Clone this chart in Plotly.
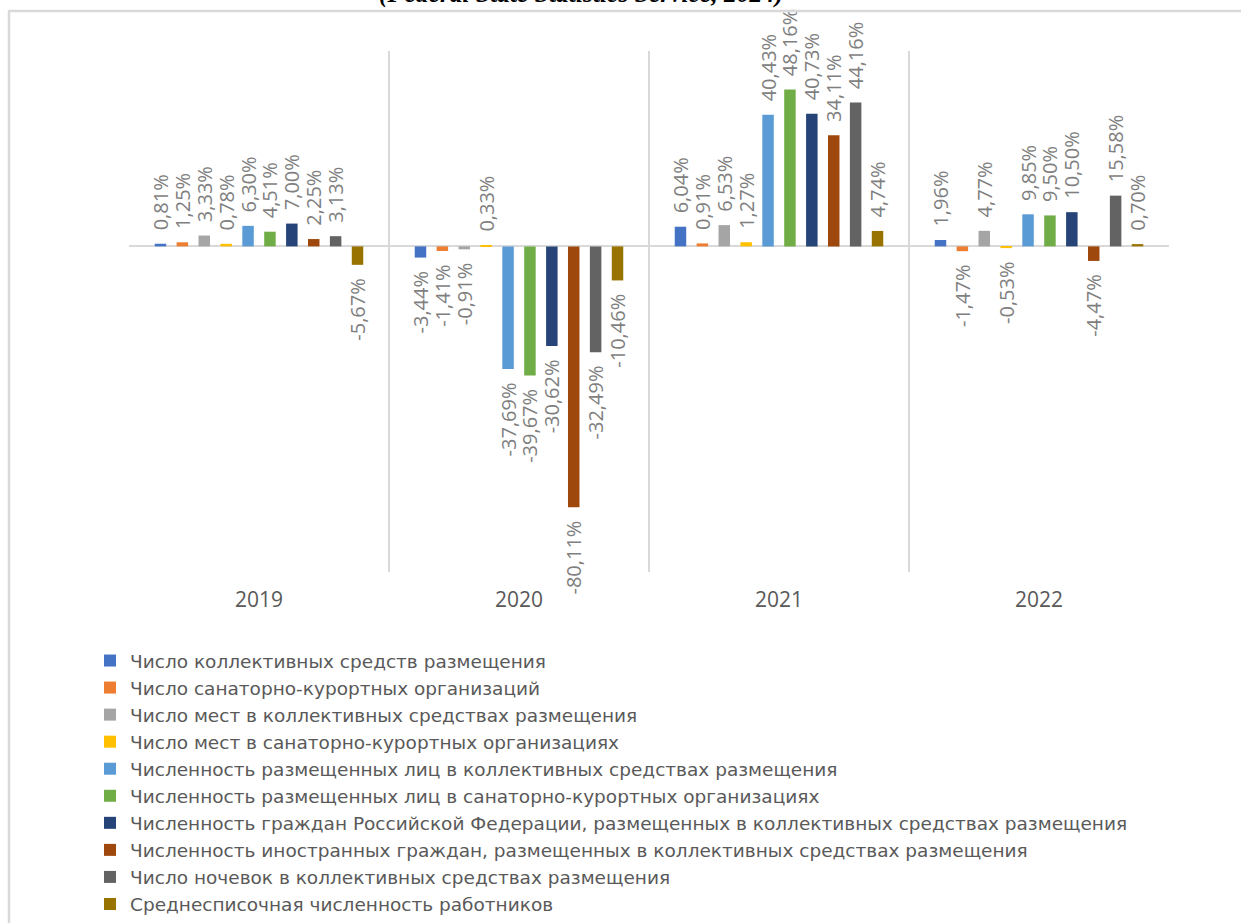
import plotly.graph_objects as go

years = ["2019", "2020", "2021", "2022"]

series_names = [
    "Число коллективных средств размещения",
    "Число санаторно-курортных организаций",
    "Число мест в коллективных средствах размещения",
    "Число мест в санаторно-курортных организациях",
    "Численность размещенных лиц в коллективных средствах размещения",
    "Численность размещенных лиц в санаторно-курортных организациях",
    "Численность граждан Российской Федерации, размещенных в коллективных средствах размещения",
    "Численность иностранных граждан, размещенных в коллективных средствах размещения",
    "Число ночевок в коллективных средствах размещения",
    "Среднесписочная численность работников",
]

vals_2019 = [0.81, 1.25, 3.33, 0.78, 6.30, 4.51, 7.00, 2.25, 3.13, -5.67]
vals_2020 = [-3.44, -1.41, -0.91, 0.33, -37.69, -39.67, -30.62, -80.11, -32.49, -10.46]
vals_2021 = [6.04, 0.91, 6.53, 1.27, 40.43, 48.16, 40.73, 34.11, 44.16, 4.74]
vals_2022 = [1.96, -1.47, 4.77, -0.53, 9.85, 9.50, 10.50, -4.47, 15.58, 0.70]

colors = ["#4472C4", "#ED7D31", "#A5A5A5", "#FFC000", "#5B9BD5",
          "#70AD47", "#264478", "#9E480E", "#636363", "#997300"]

title_text = "(Federal State Statistics Service, 2024)"

by_year = [vals_2019, vals_2020, vals_2021, vals_2022]

W, H = 1241, 923
L, R, T, B = 129, 1169, 51, 572
pw, ph = R - L, B - T

PAD = "\u00a0\u00a0"  # gap between bar end and its data label


def px_x(x):
    return (x - L) / pw


def px_y(y):
    return 1 - (y - T) / ph


def label(v):
    s = ("%.2f%%" % v).replace(".", ",")
    # rotated text reads bottom-to-top: pad the end that touches the bar
    return PAD + s if v >= 0 else s + PAD


fig = go.Figure()
for i, name in enumerate(series_names):
    yv = [yr[i] for yr in by_year]
    fig.add_trace(go.Bar(
        x=years, y=yv, name=name,
        marker=dict(color=colors[i], line=dict(width=0)),
        text=[label(v) for v in yv], textposition="outside", textangle=-90,
        textfont=dict(family="Open Sans", size=20, color="#7F7F7F"),
        constraintext="none", cliponaxis=False,
    ))

fig.update_layout(
    width=W, height=H,
    margin=dict(l=L, r=W - R, t=T, b=H - B, pad=0, autoexpand=False),
    paper_bgcolor="white", plot_bgcolor="white",
    barmode="group", bargap=0.158, bargroupgap=0.475,
    showlegend=True,
    legend=dict(
        x=px_x(90), y=px_y(642), xanchor="left", yanchor="top",
        font=dict(family="DejaVu Sans", size=18.5, color="#595959"),
        traceorder="normal", tracegroupgap=0, itemwidth=30,
        bgcolor="rgba(0,0,0,0)",
    ),
    xaxis=dict(
        type="category", tickson="boundaries", showgrid=True,
        gridcolor="#D9D9D9", gridwidth=1.5, ticks="", showline=False,
        range=[-0.5, 3.5], zeroline=False,
        tickfont=dict(family="Open Sans", size=21, color="#595959"),
        ticklabelstandoff=13,
    ),
    yaxis=dict(
        range=[-100, 60], showgrid=False, showticklabels=False,
        zeroline=True, zerolinecolor="#D9D9D9", zerolinewidth=1.5,
        ticks="", showline=False,
    ),
    shapes=[
        dict(type="line", xref="paper", yref="paper",
             x0=px_x(8), x1=px_x(1260), y0=px_y(11), y1=px_y(11),
             line=dict(color="#D9D9D9", width=2.5)),
        dict(type="line", xref="paper", yref="paper",
             x0=px_x(9), x1=px_x(9), y0=px_y(11), y1=px_y(940),
             line=dict(color="#D9D9D9", width=2.5)),
    ],
    annotations=[
        dict(text="<b><i>" + title_text + "</i></b>", xref="paper", yref="paper",
             x=px_x(581), y=px_y(10), xanchor="center", yanchor="bottom",
             showarrow=False,
             font=dict(family="Liberation Serif", size=25.5, color="black")),
    ],
)

fig.write_html("out.html", config={"displayModeBar": False},
               post_script="document.body.style.margin='0';")
